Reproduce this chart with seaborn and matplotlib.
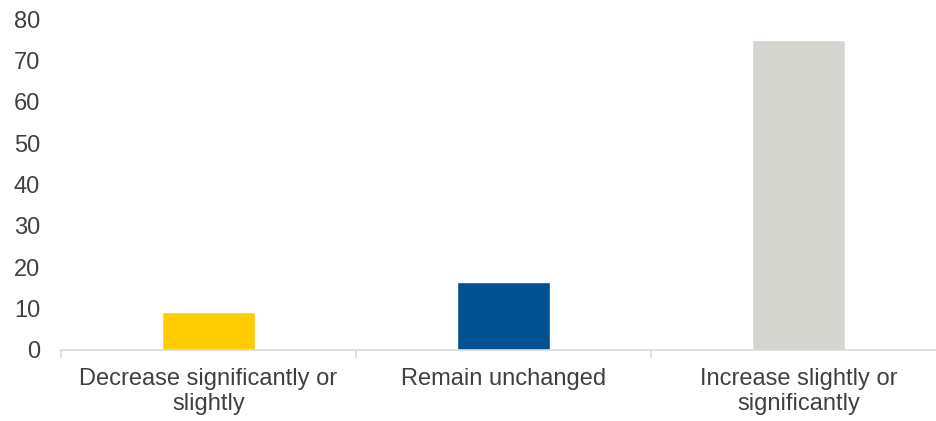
import matplotlib
matplotlib.use("Agg")
import matplotlib.pyplot as plt
import seaborn as sns
import pandas as pd

categories = ["Decrease significantly or\nslightly", "Remain unchanged", "Increase slightly or\nsignificantly"]
values = [9.2, 16.4, 75.0]
colors = ["#FFCC00", "#005293", "#D5D5D0"]
y_ticks = [0, 10, 20, 30, 40, 50, 60, 70, 80]

sns.set_theme(style="white")
plt.rcParams["font.family"] = ["Liberation Sans", "DejaVu Sans"]

df = pd.DataFrame({"category": categories, "value": values})

fig = plt.figure(figsize=(9.36, 4.21), dpi=100)
ax = fig.add_axes([61 / 936, 71 / 421, 885 / 936, 331 / 421])

sns.barplot(data=df, x="category", y="value", hue="category", palette=colors,
            width=0.315, saturation=1, legend=False, ax=ax)

ax.set_xlim(-0.5, 2.5)
ax.set_ylim(0, 80)
ax.set_yticks(y_ticks)
ax.set_xlabel("")
ax.set_ylabel("")

for side in ["top", "right", "left"]:
    ax.spines[side].set_visible(False)
ax.spines["bottom"].set_color("#D9D9D9")
ax.spines["bottom"].set_linewidth(1.2)

ax.tick_params(axis="y", length=0, pad=15, labelsize=17, labelcolor="#404040")
ax.tick_params(axis="x", length=0, pad=13, labelsize=17, labelcolor="#404040")
ax.set_xticks([0, 1, 2])
ax.set_xticklabels(categories, linespacing=1.15)
ax.set_xticks([-0.5, 0.5, 1.5, 2.5], minor=True)
ax.tick_params(axis="x", which="minor", length=6, color="#D9D9D9", width=1.2, direction="out")
ax.xaxis.set_ticks_position("bottom")

fig.savefig("out.png", dpi=100)
plt.close(fig)
